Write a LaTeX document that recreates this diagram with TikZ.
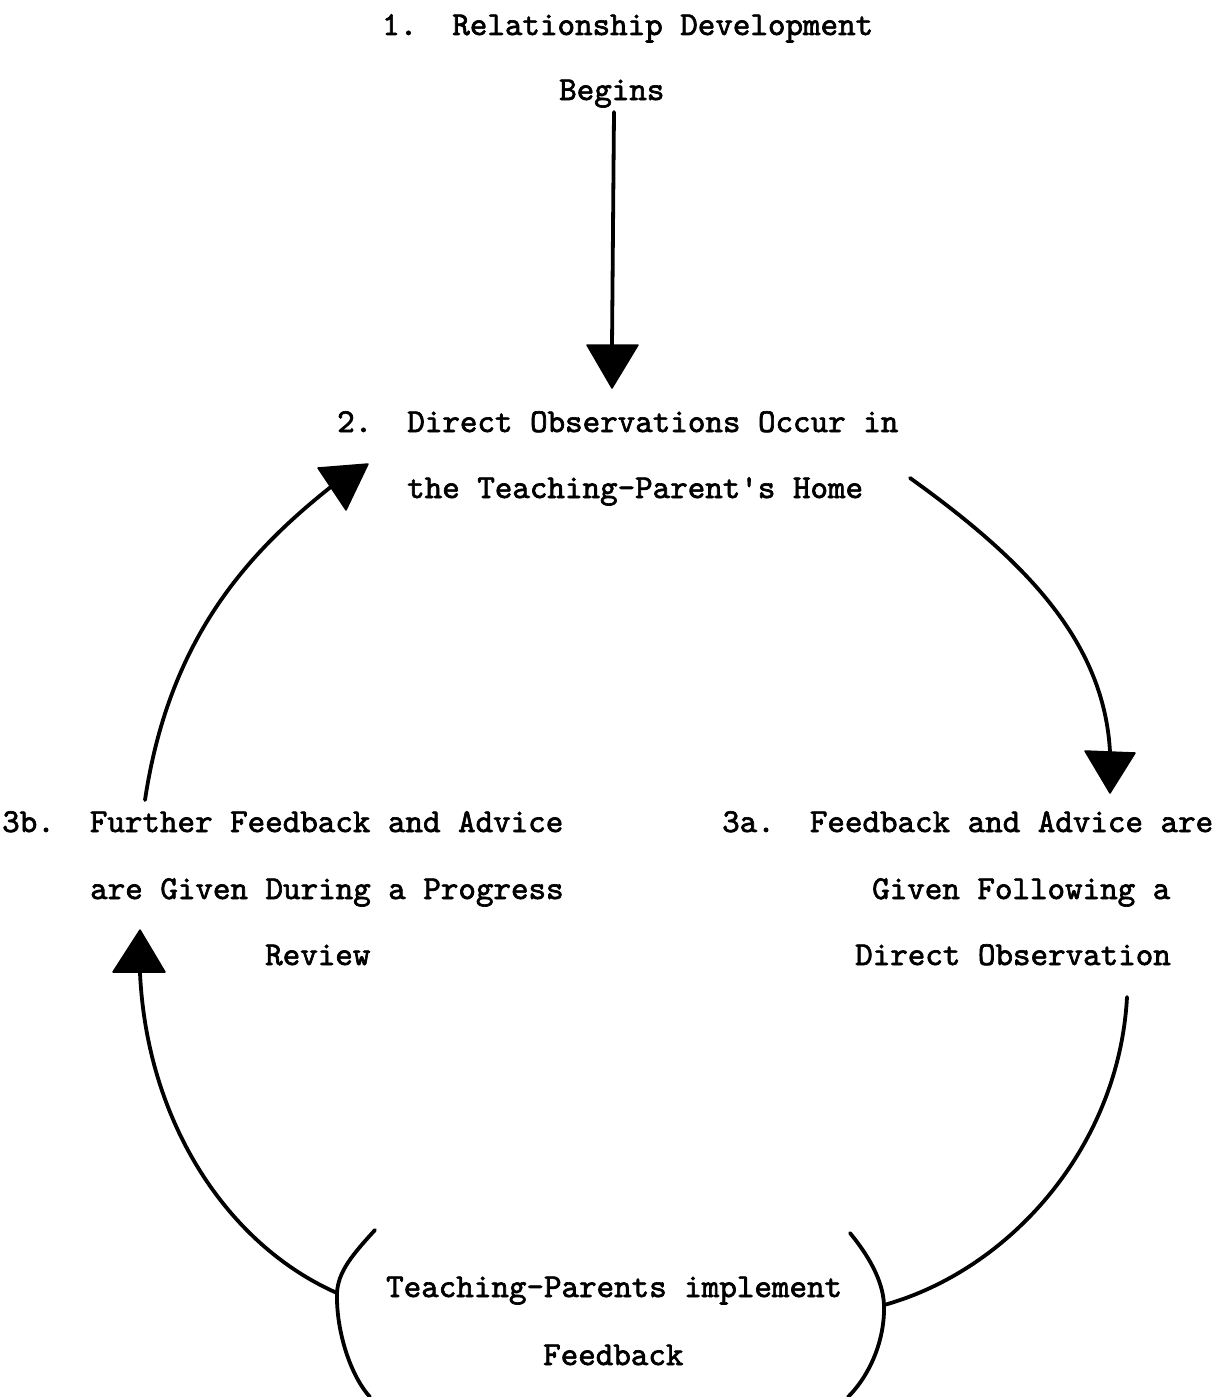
\documentclass[tikz,border=0pt]{standalone}
\usepackage{fontspec}
\newfontfamily\tw[FakeBold=2,Ligatures=TeXOff]{lmmono10-regular.otf}
\begin{document}
\frenchspacing
\begin{tikzpicture}[x=1pt,y=-1pt,
  txt/.style={font=\tw\fontsize{33.4}{40}\selectfont, inner sep=0pt, anchor=base west},
  conn/.style={line width=3.8pt, line cap=round, line join=round},
  head/.style={fill=black, draw=black, line width=1.5pt, line join=round}]
\useasboundingbox (0,0) rectangle (1231,1397);
\fill[white] (0,0) rectangle (1231,1397);

% text nodes
\node[txt] (n1a) at (382,35) {1.\ \ Relationship Development};
\node[txt] (n1b) at (559,100) {Begins};
\node[txt] (n2a) at (337,432) {2.\ \ Direct Observations Occur in};
\node[txt] (n2b) at (407,498) {the Teaching-Parent's Home};
\node[txt] (n3b1) at (2,832) {3b.\ \ Further Feedback and Advice};
\node[txt] (n3b2) at (90,899) {are Given During a Progress};
\node[txt] (n3b3) at (265,965) {Review};
\node[txt] (n3a1) at (722,832) {3a.\ \ Feedback and Advice are};
\node[txt] (n3a2) at (872,899) {Given Following a};
\node[txt] (n3a3) at (855,965) {Direct Observation};
\node[txt] (n4a) at (386,1297) {Teaching-Parents implement};
\node[txt] (n4b) at (543,1365) {Feedback};

% connector end points
\coordinate (aS) at (614,112);
\coordinate (aE) at (612,346);
\coordinate (bS) at (910,478);
\coordinate (bE) at (1110,752);
\coordinate (cS) at (1127,997);
\coordinate (jR) at (884,1305);
\coordinate (jL) at (337,1293);
\coordinate (dE) at (140,973);
\coordinate (eS) at (145,800);
\coordinate (eE) at (332,486);

% connectors
\draw[conn] (aS) -- (aE);
\draw[conn] (bS) .. controls (1023,559) and (1104,640) .. (bE);
\draw[conn] (cS) .. controls (1119,1147) and (1010,1270) .. (jR);
\draw[conn] (jL) .. controls (228,1245) and (147,1123) .. (dE);
\draw[conn] (eS) .. controls (169,640) and (246,554) .. (eE);

% brackets around the bottom text
\draw[conn] (375,1230) .. controls (352,1255) and (338,1272) .. (jL)
  .. controls (336,1330) and (350,1375) .. (370,1397);
\draw[conn] (850,1233) .. controls (868,1255) and (883,1280) .. (jR)
  .. controls (885,1340) and (870,1375) .. (848,1397);

% arrowheads
\filldraw[head] (587,345) -- (638,345) -- (612,388) -- cycle;
\filldraw[head] (318,468) -- (368,464) -- (346,510) -- cycle;
\filldraw[head] (1085,751) -- (1135,753) -- (1110,793) -- cycle;
\filldraw[head] (113,972) -- (165,972) -- (140,930) -- cycle;
\end{tikzpicture}
\end{document}
